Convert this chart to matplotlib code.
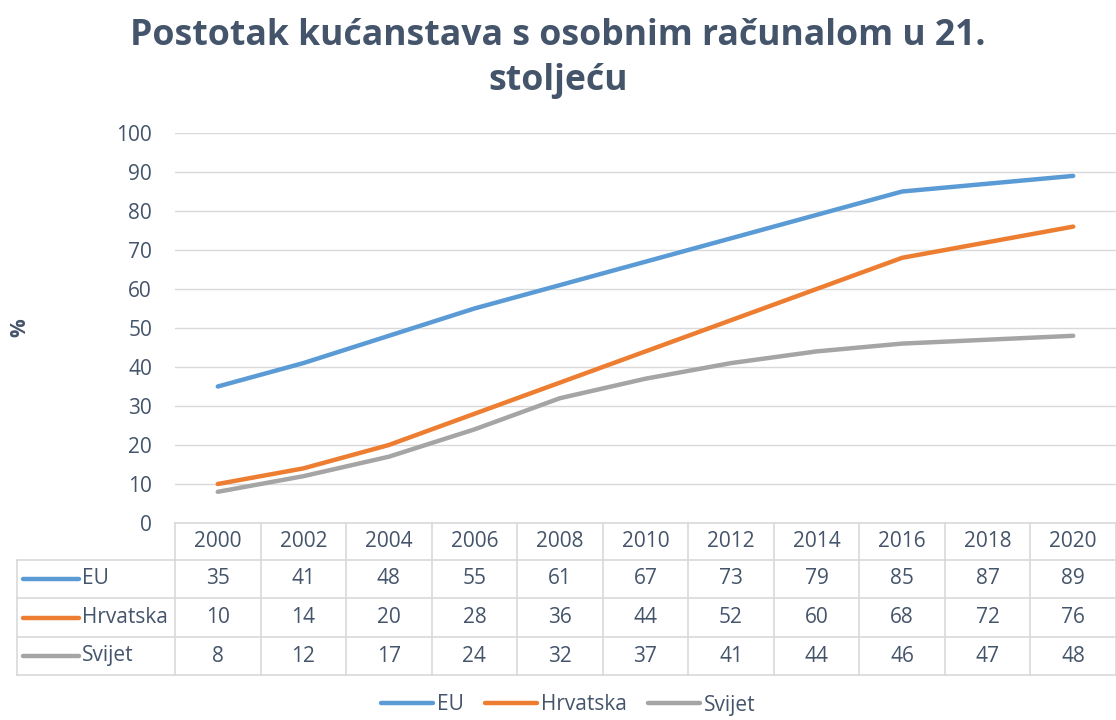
import matplotlib
matplotlib.use("Agg")
from matplotlib import pyplot as plt
from matplotlib import transforms
from matplotlib.lines import Line2D

# data
years = ['2000', '2002', '2004', '2006', '2008', '2010', '2012', '2014', '2016', '2018', '2020']
eu = [35, 41, 48, 55, 61, 67, 73, 79, 85, 87, 89]
hrvatska = [10, 14, 20, 28, 36, 44, 52, 60, 68, 72, 76]
svijet = [8, 12, 17, 24, 32, 37, 41, 44, 46, 47, 48]
series_names = ['EU', 'Hrvatska', 'Svijet']
series_colors = ['#5B9BD5', '#ED7D31', '#A5A5A5']

plt.rcParams['font.family'] = ['Open Sans', 'DejaVu Sans']
txt_col = '#44546A'
grid_col = '#D9D9D9'
fs = 15
W, H = 1116, 720

fig = plt.figure(figsize=(W / 100, H / 100), dpi=100)
# axes placed by pixel edges
left, right, top, bottom = 175, 1116, 133, 523
ax = fig.add_axes([left / W, 1 - bottom / H, (right - left) / W, (bottom - top) / H])

x = list(range(len(years)))
for vals, name, col in zip([eu, hrvatska, svijet], series_names, series_colors):
    ax.plot(x, vals, color=col, lw=3.2, label=name, solid_capstyle='round')

ax.set_xlim(-0.5, len(years) - 0.5)
ax.set_ylim(0, 100)
ax.set_yticks(range(0, 101, 10))
ax.yaxis.grid(True, color=grid_col, lw=1)
ax.set_axisbelow(True)
ax.set_xticks([])
for s in ax.spines.values():
    s.set_visible(False)
ax.tick_params(axis='y', length=0, pad=16.5, labelsize=fs, labelcolor=txt_col)

# y label
fig.text(20 / W, 1 - 328 / H, '%', rotation=90, ha='center', va='center',
         fontsize=fs, fontweight='bold', color=txt_col)

# title
fig.text(0.5, 1 - 36 / H, 'Postotak kućanstava s osobnim računalom u 21.', ha='center', va='center',
         fontsize=25.7, fontweight='bold', color=txt_col)
fig.text(0.5, 1 - 81 / H, 'stoljeću', ha='center', va='center',
         fontsize=25.7, fontweight='bold', color=txt_col)

# data table below the axes
def fy(px):
    return 1 - px / H

trans = transforms.blended_transform_factory(ax.transData, fig.transFigure)
row_edges = [523, 560, 598, 637, 675]
n = len(years)
# horizontal lines
ax.plot([-0.5, n - 0.5], [fy(row_edges[0])] * 2, transform=trans, color=grid_col, lw=1.2, clip_on=False)
for px in row_edges[1:]:
    fig.add_artist(Line2D([17 / W, 1], [fy(px)] * 2, color=grid_col, lw=1.2))
# vertical lines
for i in range(n + 1):
    ax.plot([i - 0.5, i - 0.5], [fy(row_edges[0]), fy(row_edges[-1])], transform=trans,
            color=grid_col, lw=1.2, clip_on=False)
fig.add_artist(Line2D([17 / W, 17 / W], [fy(row_edges[1]), fy(row_edges[-1])], color=grid_col, lw=1.2))

# header
for i, yr in enumerate(years):
    ax.text(i, fy((row_edges[0] + row_edges[1]) / 2), yr, transform=trans, ha='center', va='center',
            fontsize=fs, color=txt_col)
# rows
for r, (vals, name, col) in enumerate(zip([eu, hrvatska, svijet], series_names, series_colors)):
    yc = fy((row_edges[r + 1] + row_edges[r + 2]) / 2)
    fig.add_artist(Line2D([23 / W, 79 / W], [yc, yc], color=col, lw=3.2, solid_capstyle='round'))
    fig.text(82 / W, yc, name, ha='left', va='center', fontsize=fs, color=txt_col)
    for i, v in enumerate(vals):
        ax.text(i, yc, str(v), transform=trans, ha='center', va='center', fontsize=fs, color=txt_col)

# legend at bottom
handles, labels = ax.get_legend_handles_labels()
leg = fig.legend(handles, labels, loc='center', bbox_to_anchor=(568 / W, fy(705)), ncol=3, frameon=False,
                 fontsize=fs, handlelength=2.5, handletextpad=0.2, columnspacing=1.0,
                 borderpad=0, borderaxespad=0)
for t in leg.get_texts():
    t.set_color(txt_col)

fig.savefig('out.png', dpi=100)
